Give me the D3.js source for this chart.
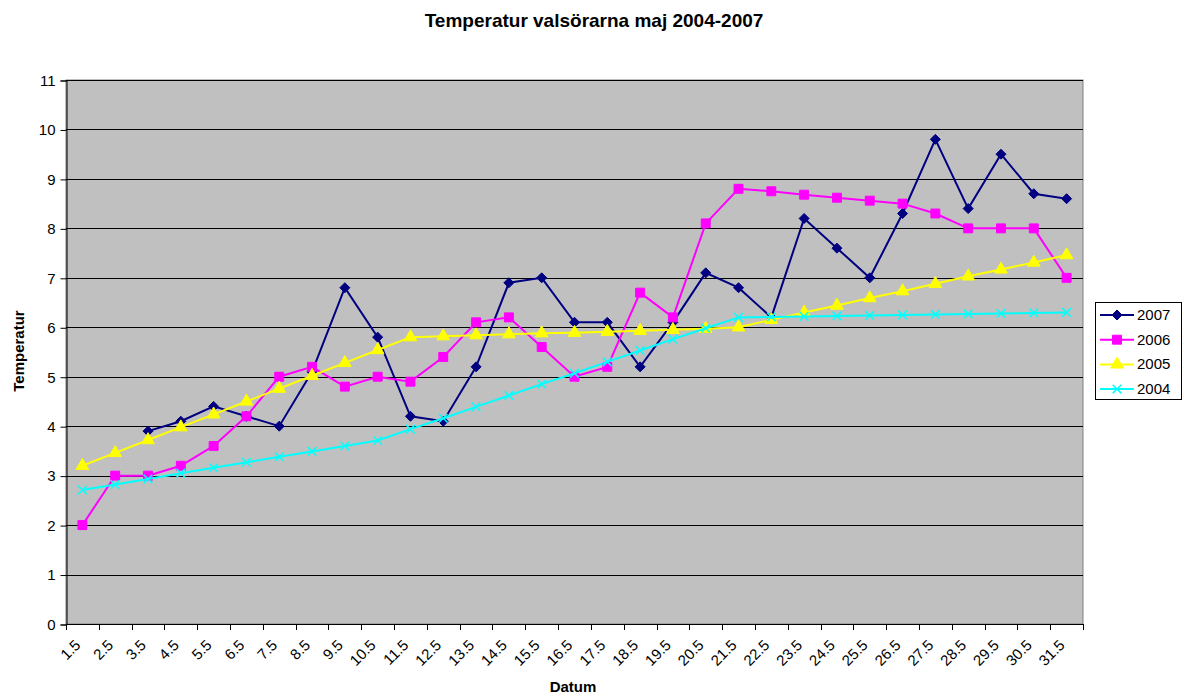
<!DOCTYPE html>
<html>
<head>
<meta charset="utf-8">
<script src="https://cdn.jsdelivr.net/npm/d3@7"></script>
<style>
  body { margin: 0; background: #fff; }
  svg text { font-family: Arial, "Liberation Sans", sans-serif; fill: #000; }
</style>
</head>
<body>
<div class="canvas"></div>
<script>
// values
const categories = ["1.5", "2.5", "3.5", "4.5", "5.5", "6.5", "7.5", "8.5", "9.5", "10.5",
    "11.5", "12.5", "13.5", "14.5", "15.5", "16.5", "17.5", "18.5", "19.5", "20.5",
    "21.5", "22.5", "23.5", "24.5", "25.5", "26.5", "27.5", "28.5", "29.5", "30.5", "31.5"];

const t2007 = [null, null, 3.9, 4.1, 4.4, 4.2, 4.0, 5.1, 6.8, 5.8, 4.2, 4.1, 5.2, 6.9, 7.0, 6.1,
    6.1, 5.2, 6.1, 7.1, 6.8, 6.2, 8.2, 7.6, 7.0, 8.3, 9.8, 8.4, 9.5, 8.7, 8.6];
const t2006 = [2.0, 3.0, 3.0, 3.2, 3.6, 4.2, 5.0, 5.2, 4.8, 5.0, 4.9, 5.4, 6.1, 6.2, 5.6, 5.0,
    5.2, 6.7, 6.2, 8.1, 8.8, 8.75, 8.68, 8.62, 8.56, 8.5, 8.3, 8.0, 8.0, 8.0, 7.0];
const t2005 = [3.2, 3.46, 3.72, 3.98, 4.24, 4.5, 4.76, 5.02, 5.28, 5.54, 5.8, 5.82, 5.84, 5.86,
    5.88, 5.89, 5.91, 5.93, 5.95, 5.97, 6.0, 6.15, 6.3, 6.44, 6.59, 6.73, 6.88, 7.03, 7.17, 7.31, 7.46];
const t2004 = [2.71, 2.82, 2.93, 3.05, 3.16, 3.27, 3.38, 3.49, 3.6, 3.71, 3.94, 4.16, 4.39, 4.62,
    4.85, 5.07, 5.3, 5.53, 5.76, 5.98, 6.2, 6.21, 6.22, 6.23, 6.24, 6.25, 6.26, 6.27, 6.28, 6.29, 6.3];

const yTicks = [0, 1, 2, 3, 4, 5, 6, 7, 8, 9, 10, 11];

// square diamond (d3's own diamond is too tall)
const symbolRhomb = {
    draw(context, size) {
        const r = Math.sqrt(size / 2);
        context.moveTo(0, -r);
        context.lineTo(r, 0);
        context.lineTo(0, r);
        context.lineTo(-r, 0);
        context.closePath();
    },
};

const series = [
    { name: "2007", values: t2007, color: "#000080", symbol: symbolRhomb, size: 50 },
    { name: "2006", values: t2006, color: "#ff00ff", symbol: d3.symbolSquare, size: 80 },
    { name: "2005", values: t2005, color: "#ffff00", symbol: d3.symbolTriangle, size: 70 },
    { name: "2004", values: t2004, color: "#00ffff", symbol: d3.symbolX, size: 50 },
];

let width = 1184, height = 696;
let plot = { left: 66, right: 1083, top: 80, bottom: 624 };

const svg = d3
    .select(".canvas")
    .append("svg")
    .attr("width", width)
    .attr("height", height);

const x = d3.scaleBand().domain(categories).range([plot.left, plot.right]).padding(0);
const y = d3.scaleLinear().domain([0, 11]).range([plot.bottom, plot.top]);
const cx = (c) => x(c) + x.bandwidth() / 2;

// plot area
svg.append("rect")
    .attr("x", plot.left)
    .attr("y", plot.top)
    .attr("width", plot.right - plot.left)
    .attr("height", plot.bottom - plot.top)
    .attr("fill", "#c0c0c0")
    .attr("stroke", "#808080")
    .attr("stroke-width", 1);

// gridlines
svg.append("g")
    .selectAll("line")
    .data(yTicks.filter((d) => d > 0))
    .join("line")
    .attr("x1", plot.left)
    .attr("x2", plot.right)
    .attr("y1", (d) => Math.round(y(d)) + 0.5)
    .attr("y2", (d) => Math.round(y(d)) + 0.5)
    .attr("stroke", "#000")
    .attr("stroke-width", 1);

// y axis
const yAxisGroup = svg.append("g")
    .attr("transform", `translate(${plot.left + 0.5},0.5)`)
    .call(d3.axisLeft(y).tickValues(yTicks).tickSize(6).tickPadding(5).tickFormat((d) => d));
yAxisGroup.select(".domain").attr("stroke", "#000");
yAxisGroup.selectAll("text").style("font-size", "15px");

// x axis line and boundary ticks
const xAxisGroup = svg.append("g");
xAxisGroup.append("line")
    .attr("x1", plot.left)
    .attr("x2", plot.right)
    .attr("y1", plot.bottom + 0.5)
    .attr("y2", plot.bottom + 0.5)
    .attr("stroke", "#000");
xAxisGroup.selectAll(".tick")
    .data(categories.concat(["end"]))
    .join("line")
    .attr("class", "tick")
    .attr("x1", (d) => Math.round(d === "end" ? plot.right : x(d)) + 0.5)
    .attr("x2", (d) => Math.round(d === "end" ? plot.right : x(d)) + 0.5)
    .attr("y1", plot.bottom)
    .attr("y2", plot.bottom + 6)
    .attr("stroke", "#000");
xAxisGroup.selectAll(".label")
    .data(categories)
    .join("text")
    .attr("class", "label")
    .attr("transform", (d) => `translate(${cx(d) - 1},${plot.bottom + 22}) rotate(-45)`)
    .attr("text-anchor", "end")
    .style("font-size", "15px")
    .text((d) => d);

// lines and markers
series.forEach((s) => {
    const lineGen = d3.line()
        .defined((d) => d != null)
        .x((d, i) => cx(categories[i]))
        .y((d) => y(d));

    svg.append("path")
        .datum(s.values)
        .attr("d", lineGen)
        .attr("fill", "none")
        .attr("stroke", s.color)
        .attr("stroke-width", 2);

    const pts = s.values
        .map((v, i) => ({ v: v, c: categories[i] }))
        .filter((d) => d.v != null);

    svg.append("g")
        .selectAll("path")
        .data(pts)
        .join("path")
        .attr("transform", (d) => `translate(${cx(d.c)},${y(d.v)})`)
        .attr("d", d3.symbol().type(s.symbol).size(s.size))
        .attr("fill", s.symbol === d3.symbolX ? "none" : s.color)
        .attr("stroke", s.color)
        .attr("stroke-width", s.symbol === d3.symbolX ? 1.5 : 1);
});

// titles
svg.append("text")
    .attr("x", 594)
    .attr("y", 27)
    .attr("text-anchor", "middle")
    .style("font-size", "19px")
    .style("font-weight", "bold")
    .text("Temperatur valsörarna maj 2004-2007");

svg.append("text")
    .attr("x", 573)
    .attr("y", 692)
    .attr("text-anchor", "middle")
    .style("font-size", "15px")
    .style("font-weight", "bold")
    .text("Datum");

svg.append("text")
    .attr("transform", "translate(24,351) rotate(-90)")
    .attr("text-anchor", "middle")
    .style("font-size", "15px")
    .style("font-weight", "bold")
    .text("Temperatur");

// legend
const legend = svg.append("g");
legend.append("rect")
    .attr("x", 1095.5)
    .attr("y", 302.5)
    .attr("width", 86)
    .attr("height", 97)
    .attr("fill", "#fff")
    .attr("stroke", "#000");

const legendItems = legend.selectAll(".item")
    .data(series)
    .join("g")
    .attr("class", "item")
    .attr("transform", (d, i) => `translate(1100,${315 + i * 24.7})`);

legendItems.append("line")
    .attr("x1", 0)
    .attr("x2", 34)
    .attr("stroke", (d) => d.color)
    .attr("stroke-width", 2);
legendItems.append("path")
    .attr("transform", "translate(17,0)")
    .attr("d", (d) => d3.symbol().type(d.symbol).size(d.size)())
    .attr("fill", (d) => (d.symbol === d3.symbolX ? "none" : d.color))
    .attr("stroke", (d) => d.color)
    .attr("stroke-width", (d) => (d.symbol === d3.symbolX ? 1.5 : 1));
legendItems.append("text")
    .attr("x", 37)
    .attr("y", 5)
    .style("font-size", "15px")
    .text((d) => d.name);
</script>
</body>
</html>
